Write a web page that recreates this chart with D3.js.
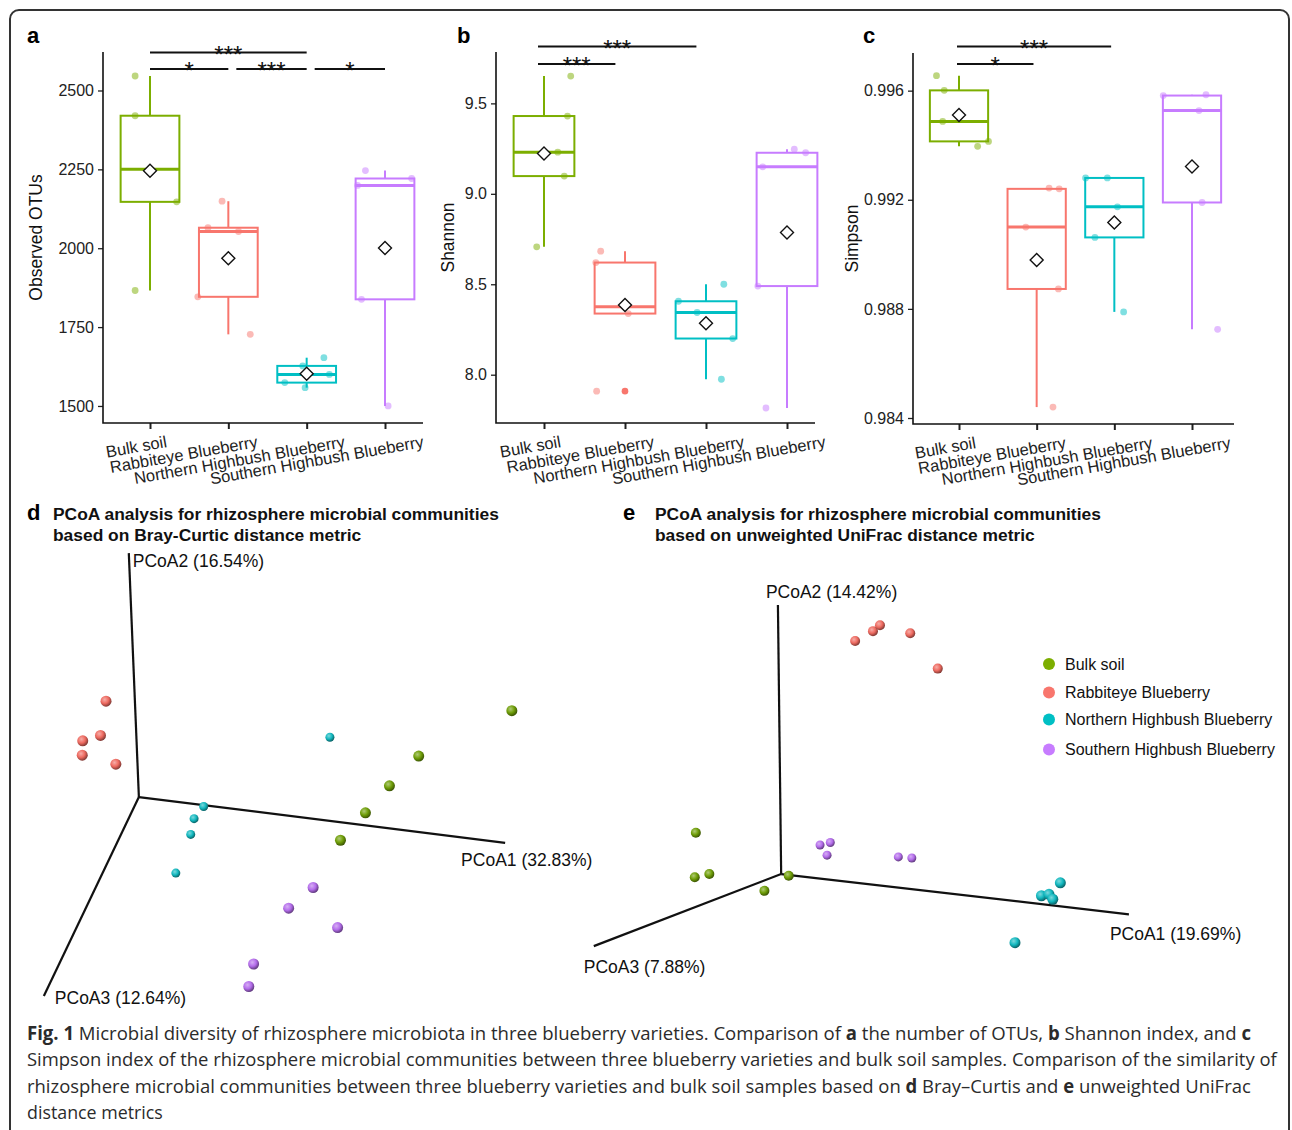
<!DOCTYPE html>
<html>
<head>
<meta charset="utf-8">
<script src="https://cdn.jsdelivr.net/npm/d3@7"></script>
<style>
body { margin: 0; background: #fff; }
svg { display: block; }
</style>
</head>
<body>
<script>
const width = 1292;
const height = 1130;

const groups = ["Bulk soil", "Rabbiteye Blueberry", "Northern Highbush Blueberry", "Southern Highbush Blueberry"];
const boxColors = ["#7CAE00", "#F8766D", "#00BFC4", "#C77CFF"];
const ballColors = ["#6F9E08", "#EE6A60", "#12B8BF", "#B46DEB"];

// alpha diversity, five samples per group
const otus = [[2546, 2420, 2250, 2147, 1866], [2149, 2065, 2053, 1846, 1727], [1653, 1627, 1600, 1574, 1558], [2246, 2221, 2199, 1838, 1500]];
const otusJitter = [[-0.19, -0.19, 0, 0.34, -0.19], [-0.08, -0.26, 0.13, -0.39, 0.28], [0.22, -0.05, 0.29, -0.28, -0.02], [-0.25, 0.34, -0.35, -0.30, 0.04]];
const otusTicks = [1500, 1750, 2000, 2250, 2500];

const shannon = [[9.651, 9.43, 9.23, 9.098, 8.707], [8.683, 8.62, 8.375, 8.338, 7.909], [8.50, 8.406, 8.344, 8.20, 7.975], [9.247, 9.227, 9.149, 8.49, 7.816]];
const shannonJitter = [[0.33, 0.29, 0.17, 0.25, -0.09], [-0.30, -0.36, 0, 0.04, -0.35], [0.22, -0.34, -0.11, 0.33, 0.19], [0.09, 0.23, -0.30, -0.36, -0.26]];
const shannonTicks = [8.0, 8.5, 9.0, 9.5];

const simpson = [[0.99655, 0.99601, 0.99487, 0.99414, 0.99396], [0.99243, 0.99240, 0.99100, 0.98873, 0.98440], [0.9928, 0.9928, 0.99174, 0.99062, 0.98789], [0.99585, 0.99582, 0.99527, 0.99190, 0.98725]];
const simpsonJitter = [[-0.29, -0.19, -0.21, 0.38, 0.24], [0.16, 0.29, -0.14, 0.28, 0.21], [-0.37, -0.09, 0.04, -0.25, 0.12], [0.18, -0.37, 0.09, 0.13, 0.33]];
const simpsonTicks = [0.984, 0.988, 0.992, 0.996];

// significance: [from group, to group, row, label]
const otusSig = [[0, 2, 0, "***"], [0, 1, 1, "*"], [1, 2, 1, "***"], [2, 3, 1, "*"]];
const shannonSig = [[0, 2, 0, "***"], [0, 1, 1, "***"]];
const simpsonSig = [[0, 2, 0, "***"], [0, 1, 1, "*"]];

// PCoA, projected 3D coordinates (0..1 in the view plane)
const brayOrigin = [0.206, 0.451];
const brayAxisEnds = [[0.969, 0.349], [0.185, 0.993], [0.008, 0.009]];
const brayAxisNames = ["PCoA1 (32.83%)", "PCoA2 (16.54%)", "PCoA3 (12.64%)"];
const brayPoints = [
  [[0.983, 0.643], [0.789, 0.542], [0.728, 0.476], [0.678, 0.416], [0.626, 0.355]],
  [[0.1375, 0.664], [0.126, 0.588], [0.089, 0.576], [0.088, 0.544], [0.158, 0.524]],
  [[0.604, 0.584], [0.341, 0.430], [0.321, 0.403], [0.314, 0.368], [0.283, 0.282]],
  [[0.569, 0.250], [0.518, 0.204], [0.620, 0.161], [0.445, 0.080], [0.435, 0.030]]
];

const unifracOrigin = [0.354, 0.217];
const unifracAxisEnds = [[0.998, 0.102], [0.348, 0.986], [0.007, 0.011]];
const unifracAxisNames = ["PCoA1 (19.69%)", "PCoA2 (14.42%)", "PCoA3 (7.88%)"];
const unifracPoints = [
  [[0.196, 0.335], [0.194, 0.208], [0.221, 0.217], [0.323, 0.169], [0.368, 0.212]],
  [[0.491, 0.883], [0.524, 0.911], [0.537, 0.928], [0.593, 0.905], [0.644, 0.804]],
  [[0.871, 0.192], [0.836, 0.155], [0.850, 0.159], [0.857, 0.145], [0.787, 0.021]],
  [[0.426, 0.300], [0.445, 0.307], [0.439, 0.271], [0.571, 0.266], [0.596, 0.263]]
];

const font = "'Liberation Sans', Arial, sans-serif";

const svg = d3.select("body")
  .append("svg")
  .attr("width", width)
  .attr("height", height)
  .style("font-family", font);

// frame
svg.append("rect")
  .attr("x", 10).attr("y", 10)
  .attr("width", 1279).attr("height", 1150)
  .attr("rx", 9)
  .attr("fill", "none")
  .attr("stroke", "#333")
  .attr("stroke-width", 2);

// shaded balls for the PCoA plots
const defs = svg.append("defs");
ballColors.forEach((c, i) => {
  const grad = defs.append("radialGradient")
    .attr("id", "ball" + i)
    .attr("cx", "38%").attr("cy", "35%").attr("r", "65%");
  grad.append("stop").attr("offset", "0%").attr("stop-color", d3.interpolateRgb(c, "#fff")(0.45));
  grad.append("stop").attr("offset", "55%").attr("stop-color", c);
  grad.append("stop").attr("offset", "100%").attr("stop-color", d3.interpolateRgb(c, "#000")(0.45));
});

function boxPanel(cfg) {
  const g = svg.append("g");
  const x = d3.scalePoint().domain(groups).range(cfg.xRange);
  const step = x.step();
  const y = d3.scaleLinear().domain(cfg.yDomain).range([cfg.bottom, cfg.top]);

  // y axis
  const ya = g.append("g")
    .attr("transform", `translate(${cfg.left},0)`)
    .call(d3.axisLeft(y).tickValues(cfg.ticks).tickFormat(cfg.fmt).tickSize(5).tickSizeOuter(0).tickPadding(4));
  ya.select(".domain").remove();
  ya.selectAll(".tick line").attr("stroke", "#222").attr("stroke-width", 1.3);
  ya.selectAll(".tick text").attr("font-size", 16).attr("fill", "#222").attr("font-family", font);

  // x axis
  const xa = g.append("g")
    .attr("transform", `translate(0,${cfg.bottom})`)
    .call(d3.axisBottom(x).tickSize(6).tickSizeOuter(0));
  xa.select(".domain").remove();
  xa.selectAll(".tick line").attr("stroke", "#222").attr("stroke-width", 2);
  xa.selectAll(".tick text").remove();

  g.append("path")
    .attr("d", `M${cfg.left},${cfg.top}V${cfg.bottom}H${cfg.right}`)
    .attr("fill", "none")
    .attr("stroke", "#111")
    .attr("stroke-width", 1.6);

  groups.forEach(name => {
    const t = g.append("text")
      .attr("font-size", 16.5)
      .attr("fill", "#222")
      .attr("text-anchor", "end")
      .text(name);
    const L = t.node().getComputedTextLength();
    t.attr("transform", `translate(${x(name) + 9 + 0.14 * L},${cfg.bottom + 24}) rotate(-10)`);
  });

  // y title
  g.append("text")
    .attr("transform", `translate(${cfg.titleX},${(cfg.top + cfg.bottom) / 2}) rotate(-90)`)
    .attr("text-anchor", "middle")
    .attr("font-size", 17.5)
    .attr("fill", "#111")
    .text(cfg.title);

  // panel letter
  g.append("text")
    .attr("x", cfg.letterX).attr("y", 43)
    .attr("font-size", 22).attr("font-weight", "bold")
    .text(cfg.letter);

  const bw = step * 0.75;
  cfg.values.forEach((vals, i) => {
    const name = groups[i];
    const col = boxColors[i];
    const s = vals.slice().sort(d3.ascending);
    const q1 = d3.quantile(s, 0.25), med = d3.quantile(s, 0.5), q3 = d3.quantile(s, 0.75);
    const iqr = q3 - q1;
    const inside = s.filter(v => v >= q1 - 1.5 * iqr && v <= q3 + 1.5 * iqr);
    const lo = d3.min(inside), hi = d3.max(inside);
    const outliers = s.filter(v => v < q1 - 1.5 * iqr || v > q3 + 1.5 * iqr);
    const cx = x(name);

    g.append("line").attr("x1", cx).attr("x2", cx).attr("y1", y(hi)).attr("y2", y(q3))
      .attr("stroke", col).attr("stroke-width", 2);
    g.append("line").attr("x1", cx).attr("x2", cx).attr("y1", y(q1)).attr("y2", y(lo))
      .attr("stroke", col).attr("stroke-width", 2);
    g.append("rect")
      .attr("x", cx - bw / 2).attr("width", bw)
      .attr("y", y(q3)).attr("height", y(q1) - y(q3))
      .attr("fill", "#fff").attr("stroke", col).attr("stroke-width", 2);
    g.append("line").attr("x1", cx - bw / 2).attr("x2", cx + bw / 2).attr("y1", y(med)).attr("y2", y(med))
      .attr("stroke", col).attr("stroke-width", 3);

    g.selectAll(null).data(outliers).enter().append("circle")
      .attr("cx", cx).attr("cy", d => y(d)).attr("r", 3.3).attr("fill", col);

    g.selectAll(null).data(vals).enter().append("circle")
      .attr("cx", (d, k) => cx + cfg.jitter[i][k] * step)
      .attr("cy", d => y(d))
      .attr("r", 3.4)
      .attr("fill", col)
      .attr("fill-opacity", 0.5);

    const m = d3.mean(vals);
    const r = 6.5;
    g.append("path")
      .attr("d", `M${cx},${y(m) - r}L${cx + r},${y(m)}L${cx},${y(m) + r}L${cx - r},${y(m)}Z`)
      .attr("fill", "#fff").attr("stroke", "#111").attr("stroke-width", 1.4);
  });

  // significance bars
  cfg.sig.forEach(([a, b, row, label]) => {
    const ly = cfg.sigY[row];
    const x1 = x(groups[a]) + (a > 0 && row > 0 ? 8 : 0) + cfg.sigShift;
    const x2 = x(groups[b]) + cfg.sigShift * 1.6;
    g.append("line").attr("x1", x1).attr("x2", x2).attr("y1", ly).attr("y2", ly)
      .attr("stroke", "#111").attr("stroke-width", 2);
    g.append("text")
      .attr("x", (x1 + x2) / 2).attr("y", ly + 10)
      .attr("text-anchor", "middle")
      .attr("font-size", 24)
      .attr("fill", "#111")
      .text(label);
  });
}

boxPanel({
  letter: "a", letterX: 27, title: "Observed OTUs", titleX: 42,
  values: otus, jitter: otusJitter, ticks: otusTicks, fmt: d3.format("d"),
  yDomain: [1446, 2622], xRange: [150, 385],
  left: 103, right: 423, top: 52, bottom: 423,
  sig: otusSig, sigY: [52.5, 69], sigShift: 0
});

boxPanel({
  letter: "b", letterX: 457, title: "Shannon", titleX: 454,
  values: shannon, jitter: shannonJitter, ticks: shannonTicks, fmt: d3.format(".1f"),
  yDomain: [7.733, 9.784], xRange: [544, 787],
  left: 496, right: 815, top: 52, bottom: 423,
  sig: shannonSig, sigY: [46.5, 64], sigShift: -6
});

boxPanel({
  letter: "c", letterX: 863, title: "Simpson", titleX: 858,
  values: simpson, jitter: simpsonJitter, ticks: simpsonTicks, fmt: d3.format(".3f"),
  yDomain: [0.98378, 0.99738], xRange: [959, 1192],
  left: 913, right: 1234, top: 53, bottom: 424,
  sig: simpsonSig, sigY: [46.5, 64], sigShift: -2
});

function pcoaPanel(cfg) {
  const g = svg.append("g");
  const x = d3.scaleLinear().domain([0, 1]).range(cfg.xRange);
  const y = d3.scaleLinear().domain([0, 1]).range(cfg.yRange);

  g.append("text")
    .attr("x", cfg.letterX).attr("y", 520)
    .attr("font-size", 22).attr("font-weight", "bold")
    .text(cfg.letter);
  g.selectAll(null).data(cfg.titleLines).enter().append("text")
    .attr("x", cfg.titleX)
    .attr("y", (d, i) => 520 + i * 21)
    .attr("font-size", 17.4).attr("font-weight", "bold")
    .attr("fill", "#111")
    .text(d => d);

  cfg.ends.forEach((e, i) => {
    g.append("line")
      .attr("x1", x(cfg.origin[0])).attr("y1", y(cfg.origin[1]))
      .attr("x2", x(e[0])).attr("y2", y(e[1]))
      .attr("stroke", "#111").attr("stroke-width", 2.2);
    g.append("text")
      .attr("x", x(e[0]) + cfg.labelOffsets[i][0])
      .attr("y", y(e[1]) + cfg.labelOffsets[i][1])
      .attr("font-size", 17.5)
      .attr("fill", "#111")
      .text(cfg.names[i]);
  });

  cfg.points.forEach((pts, i) => {
    g.selectAll(null).data(pts).enter().append("circle")
      .attr("cx", d => x(d[0]))
      .attr("cy", d => y(d[1]))
      .attr("r", cfg.radii[i])
      .attr("fill", `url(#ball${i})`);
  });
}

pcoaPanel({
  letter: "d", letterX: 27, titleX: 53,
  titleLines: ["PCoA analysis for rhizosphere microbial communities", "based on Bray-Curtic distance metric"],
  xRange: [40, 520], yRange: [1000, 550],
  origin: brayOrigin, ends: brayAxisEnds, names: brayAxisNames,
  labelOffsets: [[-44, 23], [4, 14], [11, 8]],
  points: brayPoints, radii: [5.5, 5.5, 4.5, 5.5]
});

pcoaPanel({
  letter: "e", letterX: 623, titleX: 655,
  titleLines: ["PCoA analysis for rhizosphere microbial communities", "based on unweighted UniFrac distance metric"],
  xRange: [590, 1130], yRange: [950, 600],
  origin: unifracOrigin, ends: unifracAxisEnds, names: unifracAxisNames,
  labelOffsets: [[-19, 26], [-12, -7], [-10, 27]],
  points: unifracPoints, radii: [5, 5, 5.5, 4.5]
});

// legend
const legendY = [664, 692.5, 719.5, 749.5];
const legend = svg.append("g");
groups.forEach((name, i) => {
  legend.append("circle")
    .attr("cx", 1049).attr("cy", legendY[i]).attr("r", 6)
    .attr("fill", boxColors[i]);
  legend.append("text")
    .attr("x", 1065).attr("y", legendY[i] + 5.5)
    .attr("font-size", 16)
    .attr("fill", "#111")
    .text(name);
});

// caption, squeezed horizontally to the condensed width of the original
const caption = [
  { y: 1040, w: 1225, parts: [["Fig. 1", true], [" Microbial diversity of rhizosphere microbiota in three blueberry varieties. Comparison of ", false], ["a", true], [" the number of OTUs, ", false], ["b", true], [" Shannon index, and ", false], ["c", true]] },
  { y: 1066, w: 1250, parts: [["Simpson index of the rhizosphere microbial communities between three blueberry varieties and bulk soil samples. Comparison of the similarity of", false]] },
  { y: 1093, w: 1225, parts: [["rhizosphere microbial communities between three blueberry varieties and bulk soil samples based on ", false], ["d", true], [" Bray\u2013Curtis and ", false], ["e", true], [" unweighted UniFrac", false]] },
  { y: 1119, w: 136, parts: [["distance metrics", false]] }
];
caption.forEach(line => {
  const t = svg.append("text")
    .attr("font-family", "'Open Sans', 'Noto Sans', sans-serif")
    .attr("font-size", 19)
    .attr("fill", "#2b2b2b");
  line.parts.forEach(([s, b]) => {
    t.append("tspan").attr("font-weight", b ? "bold" : "normal").text(s);
  });
  const L = t.node().getComputedTextLength();
  t.attr("transform", `translate(27,${line.y}) scale(${line.w / L},1)`);
});
</script>
</body>
</html>
